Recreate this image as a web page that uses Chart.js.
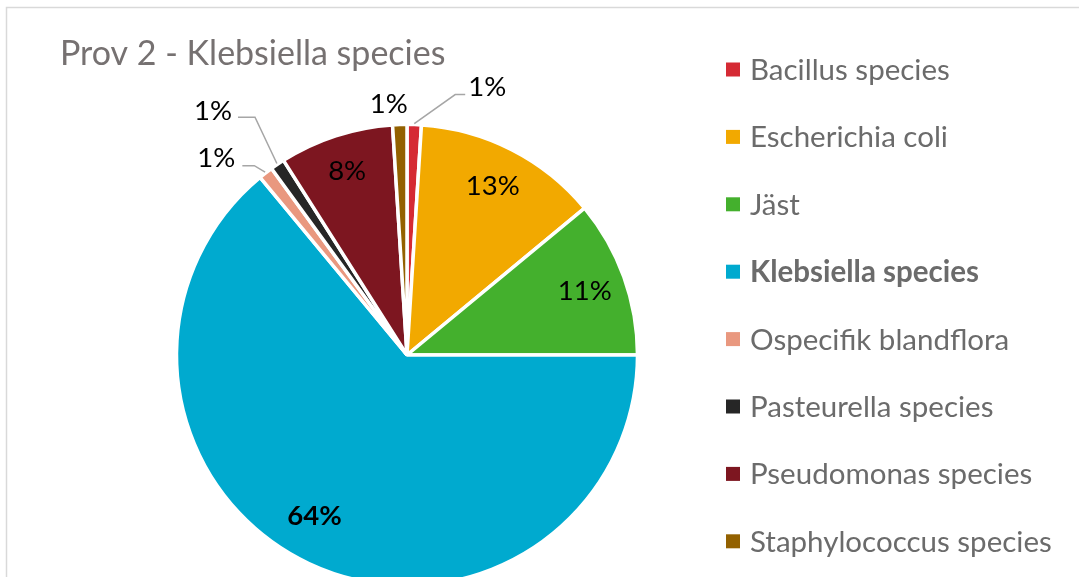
<!DOCTYPE html>
<html>
<head>
<meta charset="utf-8">
<script src="https://cdn.jsdelivr.net/npm/chart.js@4.4.1/dist/chart.umd.min.js"></script>
<style>
  html, body { margin: 0; padding: 0; background: #ffffff; }
  #wrap { position: relative; width: 1079px; height: 577px; overflow: hidden; background: #fff; }
  canvas { display: block; }
</style>
</head>
<body>
<div id="wrap"><canvas id="c" width="1079" height="620"></canvas></div>
<script>
const chartTitle = 'Prov 2 - Klebsiella species';
const categories = ['Bacillus species', 'Escherichia coli', 'Jäst', 'Klebsiella species',
                    'Ospecifik blandflora', 'Pasteurella species', 'Pseudomonas species', 'Staphylococcus species'];
const values = [1, 13, 11, 64, 1, 1, 8, 1];
const sliceColors = ['#d52a34', '#f2a900', '#44b02d', '#00aacf', '#e9987f', '#262626', '#7d1620', '#936100'];
const highlighted = 'Klebsiella species';

const FONT = 'Lato, "Open Sans", sans-serif';

// label placement: inside labels at radius fraction; outside labels with offset and optional leader
const labelPlacement = {
  0: { out: true, label: [73, -38], line: [[41, -31], [51, -31]] },
  1: { r: 0.82 },
  2: { r: 0.82 },
  3: { r: 0.80, shift: -14, lift: -6 },
  4: { out: true, label: [-50, -16], line: [[-12, -8], [-24, -8]] },
  5: { out: true, label: [-65, -54], line: [[-23, -48], [-40, -48]] },
  6: { r: 0.84 },
  7: { out: true, label: [-11, -21] }
};

const framePlugin = {
  id: 'frame',
  beforeDraw(chart) {
    const ctx = chart.ctx;
    ctx.save();
    ctx.fillStyle = '#ffffff';
    ctx.fillRect(0, 0, chart.width, chart.height);
    ctx.strokeStyle = '#d9d9d9';
    ctx.lineWidth = 1.5;
    ctx.beginPath();
    ctx.moveTo(6.5, chart.height + 5);
    ctx.lineTo(6.5, 7.5);
    ctx.lineTo(chart.width + 5, 7.5);
    ctx.stroke();
    ctx.restore();
  }
};

const labelsPlugin = {
  id: 'sliceLabels',
  afterDatasetsDraw(chart) {
    const ctx = chart.ctx;
    const meta = chart.getDatasetMeta(0);
    const data = chart.data.datasets[0].data;
    const total = data.reduce((a, b) => a + b, 0);
    ctx.save();
    meta.data.forEach((arc, i) => {
      const p = arc.getProps(['x', 'y', 'startAngle', 'endAngle', 'outerRadius'], true);
      const mid = (p.startAngle + p.endAngle) / 2;
      const txt = Math.round(data[i] / total * 100) + '%';
      const pl = labelPlacement[i] || { r: 0.8 };
      let lx, ly;
      if (pl.out) {
        const ox = p.x + Math.cos(mid) * (p.outerRadius - 1);
        const oy = p.y + Math.sin(mid) * (p.outerRadius - 1);
        lx = ox + pl.label[0];
        ly = oy + pl.label[1];
        if (pl.line) {
          ctx.strokeStyle = '#a6a6a6';
          ctx.lineWidth = 1.5;
          ctx.beginPath();
          ctx.moveTo(ox + Math.cos(mid) * 2, oy + Math.sin(mid) * 2);
          pl.line.forEach(q => ctx.lineTo(ox + q[0], oy + q[1]));
          ctx.stroke();
        }
      } else {
        const rr = p.outerRadius * pl.r;
        lx = p.x + Math.cos(mid) * rr + (pl.shift || 0);
        ly = p.y + Math.sin(mid) * rr + (pl.lift || 0);
      }
      const bold = chart.data.labels[i] === highlighted;
      ctx.font = (bold ? 'bold ' : '') + '27.5px ' + FONT;
      ctx.fillStyle = '#000000';
      ctx.textAlign = 'center';
      ctx.textBaseline = 'middle';
      ctx.fillText(txt, lx, ly);
    });
    ctx.restore();
  }
};

const legendTitlePlugin = {
  id: 'legendTitle',
  afterDraw(chart) {
    const ctx = chart.ctx;
    ctx.save();
    // title
    ctx.font = '34px ' + FONT;
    ctx.fillStyle = '#767171';
    ctx.textAlign = 'left';
    ctx.textBaseline = 'alphabetic';
    ctx.fillText(chartTitle, 60, 65);
    // legend
    const ds = chart.data.datasets[0];
    chart.data.labels.forEach((lab, i) => {
      const cy = 69.5 + i * 67.4;
      ctx.fillStyle = ds.backgroundColor[i];
      ctx.fillRect(726, cy - 7, 14, 14);
      const bold = lab === highlighted;
      ctx.font = (bold ? 'bold ' : '') + '29.5px ' + FONT;
      ctx.fillStyle = '#6b6b6b';
      ctx.textBaseline = 'middle';
      ctx.fillText(lab, 750, cy + 1);
    });
    ctx.restore();
  }
};

new Chart(document.getElementById('c'), {
  type: 'pie',
  data: {
    labels: categories,
    datasets: [{
      data: values,
      backgroundColor: sliceColors,
      borderColor: '#ffffff',
      borderWidth: 3.5,
      hoverOffset: 0,
      offset: 0
    }]
  },
  options: {
    responsive: false,
    animation: false,
    radius: 230.5,
    rotation: 0,
    layout: { padding: { left: 176.5, right: 441.5, top: 124.5, bottom: 34.5 } },
    plugins: {
      legend: { display: false },
      title: { display: false },
      tooltip: { enabled: false }
    },
    events: []
  },
  plugins: [framePlugin, labelsPlugin, legendTitlePlugin]
});
</script>
</body>
</html>
